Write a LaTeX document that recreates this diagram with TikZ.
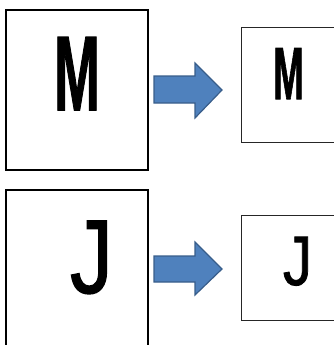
\documentclass[tikz,border=0pt]{standalone}
\usepackage{fontspec}
\setmainfont{Liberation Sans}
\newfontfamily\heavyfont[FakeBold=1.5]{Liberation Sans Bold}
\newfontfamily\midfont[FakeBold=1.2]{Liberation Sans}
\begin{document}
\begin{tikzpicture}[x=1pt,y=-1pt,
  bigbox/.style={draw=black,line width=1.8pt},
  smallbox/.style={draw=black!85,line width=1pt},
  blockarrow/.style={fill=arrowfill,draw=arrowline,line width=1.2pt,line join=miter},
  letter/.style={inner sep=0pt,anchor=base}]
\definecolor{arrowfill}{HTML}{4F81BD}
\definecolor{arrowline}{HTML}{385D8A}
\useasboundingbox (0,0) rectangle (334,345);
% top row
\draw[bigbox] (6,10) rectangle (148,170);
\draw[smallbox] (241,28) rectangle (338,142);
\node[letter] (bigM) at (77,110) {\fontsize{106}{110}\heavyfont\scalebox{0.52}[1]{M}};
\node[letter] (smallM) at (288.5,99) {\fontsize{74}{78}\heavyfont\scalebox{0.5}[1]{M}};
\draw[blockarrow] (154,76) -- (195,76) -- (195,63) -- (222,90) -- (195,118) -- (195,103) -- (154,103) -- cycle;
% bottom row
\draw[bigbox] (6,190) rectangle (148,350);
\draw[smallbox] (241,215) rectangle (338,320);
\node[letter] (bigJ) at (91.5,293) {\fontsize{105}{110}\midfont\scalebox{0.82}[1]{J}};
\node[letter] (smallJ) at (297.5,285) {\fontsize{70}{74}\midfont\scalebox{0.83}[1]{J}};
\draw[blockarrow] (154,256) -- (195,256) -- (195,242) -- (222,269) -- (195,295) -- (195,282) -- (154,282) -- cycle;
\end{tikzpicture}
\end{document}
